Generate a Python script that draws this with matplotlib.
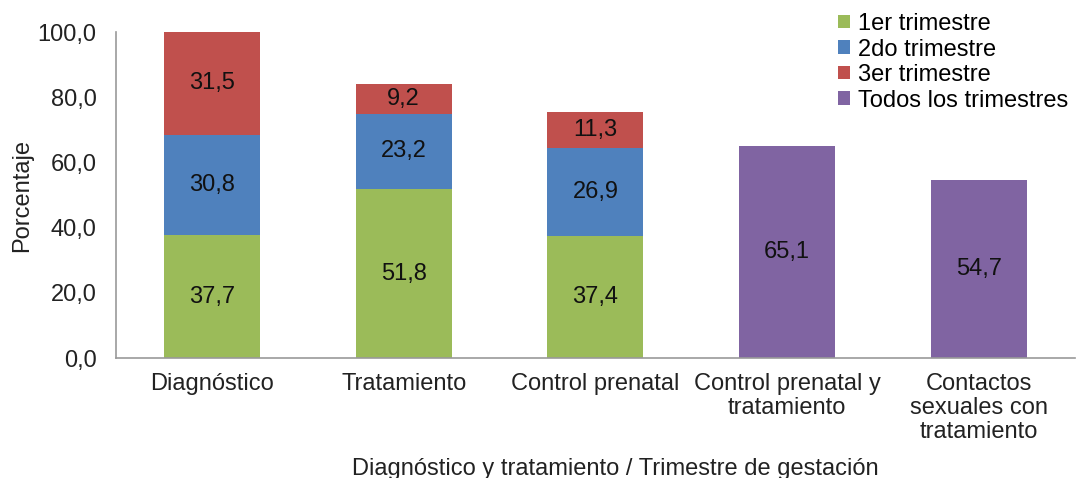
import matplotlib.pyplot as plt
import numpy as np

plt.rcParams['font.family'] = ['Liberation Sans', 'DejaVu Sans']

# categories and values
categorias = ['Diagnóstico', 'Tratamiento', 'Control prenatal',
              'Control prenatal y\ntratamiento', 'Contactos\nsexuales con\ntratamiento']
t1 = [37.7, 51.8, 37.4, 0, 0]
t2 = [30.8, 23.2, 26.9, 0, 0]
t3 = [31.5, 9.2, 11.3, 0, 0]
todos = [0, 0, 0, 65.1, 54.7]
yticks = [0, 20, 40, 60, 80, 100]

verde = '#9BBB59'
azul = '#4F81BD'
rojo = '#C0504D'
morado = '#8064A2'
fs = 17

fig = plt.figure(figsize=(10.81, 4.78), dpi=100)
ax = fig.add_axes([0.1073, 0.251, 0.887, 0.682])

x = np.arange(len(categorias))
w = 0.5
t1 = np.array(t1); t2 = np.array(t2); t3 = np.array(t3); todos = np.array(todos)

m = x < 3
b1 = ax.bar(x[m], t1[m], w, color=verde, label='1er trimestre')
b2 = ax.bar(x[m], t2[m], w, bottom=t1[m], color=azul, label='2do trimestre')
b3 = ax.bar(x[m], t3[m], w, bottom=t1[m] + t2[m], color=rojo, label='3er trimestre')
b4 = ax.bar(x[~m], todos[~m], w, color=morado, label='Todos los trimestres')

fmt = lambda v: f'{v:.1f}'.replace('.', ',')
for bars in (b1, b2, b3, b4):
    ax.bar_label(bars, labels=[fmt(r.get_height()) for r in bars],
                 label_type='center', fontsize=fs, color='#111111')

ax.set_xlim(-0.5, len(categorias) - 0.5)
ax.set_ylim(0, 100)
ax.set_yticks(yticks)
ax.set_yticklabels([fmt(v) for v in yticks], fontsize=fs, color='#222222')
ax.set_xticks(x)
ax.set_xticklabels(categorias, fontsize=fs, color='#222222', linespacing=1.12)
ax.tick_params(axis='y', length=0, pad=14)
ax.tick_params(axis='x', length=0, pad=11)
for s in ('top', 'right'):
    ax.spines[s].set_visible(False)
for s in ('left', 'bottom'):
    ax.spines[s].set_color('#999999')
    ax.spines[s].set_linewidth(1.2)

ax.set_ylabel('Porcentaje', fontsize=fs, color='#222222', labelpad=3)
fig.text(0.569, -0.004, 'Diagnóstico y tratamiento / Trimestre de gestación',
         fontsize=fs, color='#222222', ha='center', va='bottom')

fig.legend(handles=[b1, b2, b3, b4], loc='upper right', bbox_to_anchor=(1.0, 1.0),
           frameon=False, fontsize=fs, handlelength=0.5, handleheight=0.5,
           handletextpad=0.35, labelspacing=0.15, borderaxespad=0.15)

fig.savefig('out.png', dpi=100)
